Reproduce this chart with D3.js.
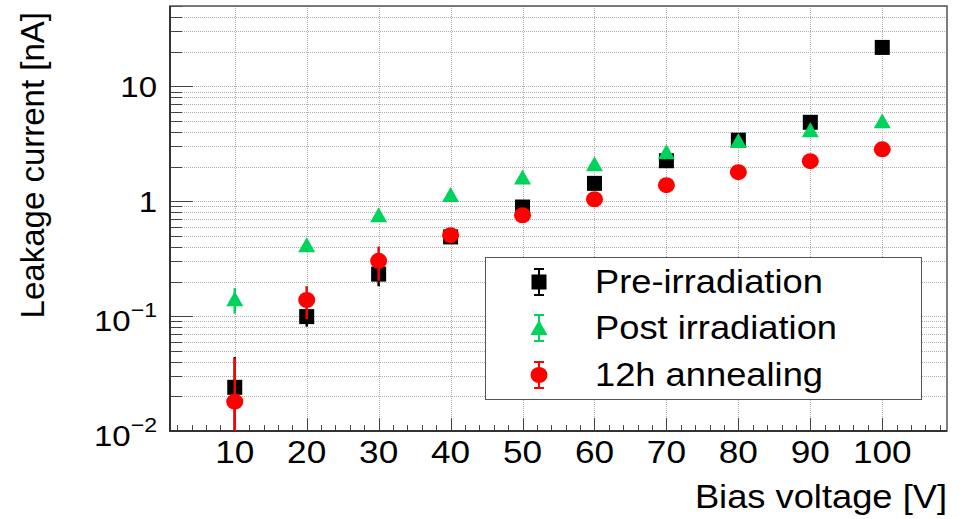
<!DOCTYPE html>
<html>
<head>
<meta charset="utf-8">
<script src="https://cdn.jsdelivr.net/npm/d3@7"></script>
<style>
    body { margin: 0; background: #fff; }
    svg { display: block; font-family: "Liberation Sans", Arial, sans-serif; }
</style>
</head>
<body>
<div id="chart"></div>
<script>

// values
let voltage = [10, 20, 30, 40, 50, 60, 70, 80, 90, 100];

let preIrr    = [0.024, 0.099, 0.232, 0.489, 0.89, 1.43, 2.25, 3.40, 4.86, 21.8];
let preErr    = [0.020, 0.018, 0.050, 0.040, 0.05, 0.06, 0.08, 0.10, 0.10, 0.30];

let postIrr   = [0.140, 0.414, 0.755, 1.13, 1.61, 2.10, 2.67, 3.35, 4.14, 4.96];
let postErr   = [0.035, 0.040, 0.040, 0.05, 0.06, 0.07, 0.08, 0.10, 0.12, 0.14];

let annealing = [0.018, 0.138, 0.303, 0.506, 0.755, 1.04, 1.38, 1.79, 2.23, 2.83];
let annealErr = [0.025, 0.044, 0.100, 0.040, 0.050, 0.05, 0.06, 0.07, 0.08, 0.10];

let seriesNames = ["Pre-irradiation", "Post irradiation", "12h annealing"];
let yMajorTicks = [0.01, 0.1, 1, 10];

let width = 963;
let height = 519;
let margin = {left: 170, right: 16, top: 6, bottom: 88};
let sx = 1.1;   // the reference text is slightly wide

let green = "#00d35b";

let series = [
    {name: seriesNames[0], values: preIrr, errors: preErr, color: "#000", shape: "square"},
    {name: seriesNames[1], values: postIrr, errors: postErr, color: green, shape: "triangle"},
    {name: seriesNames[2], values: annealing, errors: annealErr, color: "#ff0000", shape: "circle"}
];

let svg = d3.select("#chart").append("svg")
    .attr("width", width)
    .attr("height", height);

let x = d3.scaleLinear()
    .domain([1, 109])
    .range([margin.left, width - margin.right]);

let y = d3.scaleLog()
    .domain([0.01, 50])
    .range([height - margin.bottom, margin.top]);

let x0 = x.range()[0], x1 = x.range()[1];
let y0 = y.range()[0], y1 = y.range()[1];

// log minor ticks: 2..9 of every decade, inside the domain
let yAllTicks = [];
for (let e = -2; e <= 1; e++) {
    for (let m = 1; m <= 9; m++) {
        let v = m * Math.pow(10, e);
        if (v >= 0.01 && v <= 50) yAllTicks.push(v);
    }
}
let xMajor = d3.range(10, 101, 10);
let xMinor = d3.range(2, 109, 2).filter(d => d % 10 != 0);

// grid
let grid = svg.append("g").attr("class", "grid")
    .attr("stroke", "#b0b0b0")
    .attr("stroke-width", 1)
    .attr("stroke-dasharray", "1,1");

grid.selectAll(".hgrid")
    .data(yAllTicks.filter(d => d > 0.01))
    .join("line")
        .attr("class", "hgrid")
        .attr("x1", x0).attr("x2", x1)
        .attr("y1", d => Math.round(y(d)) + 0.5)
        .attr("y2", d => Math.round(y(d)) + 0.5);

grid.selectAll(".vgrid")
    .data(xMajor)
    .join("line")
        .attr("class", "vgrid")
        .attr("x1", d => Math.round(x(d)) + 0.5)
        .attr("x2", d => Math.round(x(d)) + 0.5)
        .attr("y1", y1).attr("y2", y0);

// ticks
let ticks = svg.append("g").attr("stroke", "#444").attr("stroke-width", 1);

ticks.selectAll(".ytick")
    .data(yAllTicks)
    .join("line")
        .attr("x1", x0)
        .attr("x2", d => x0 + (yMajorTicks.includes(d) ? 23 : 12))
        .attr("y1", d => Math.round(y(d)) + 0.5)
        .attr("y2", d => Math.round(y(d)) + 0.5);

ticks.selectAll(".xtick")
    .data(xMajor.concat(xMinor))
    .join("line")
        .attr("x1", d => Math.round(x(d)) + 0.5)
        .attr("x2", d => Math.round(x(d)) + 0.5)
        .attr("y1", y0)
        .attr("y2", d => y0 - (d % 10 == 0 ? 13 : 6));

// frame
svg.append("rect")
    .attr("x", x0).attr("y", y1)
    .attr("width", x1 - x0).attr("height", y0 - y1)
    .attr("fill", "none")
    .attr("stroke", "#555")
    .attr("stroke-width", 1.5);

svg.append("path")
    .attr("d", `M${x0},${y1}V${y0}H${x1}`)
    .attr("fill", "none")
    .attr("stroke", "#333")
    .attr("stroke-width", 2);

// tick labels
svg.append("g").selectAll("text")
    .data(xMajor)
    .join("text")
        .attr("transform", d => `translate(${x(d)},463) scale(${sx},1)`)
        .attr("text-anchor", "middle")
        .attr("font-size", 32)
        .text(d => d);

let ylab = svg.append("g").selectAll("g")
    .data(yMajorTicks)
    .join("g")
        .attr("transform", d => `translate(157,${y(d)}) scale(${sx},1)`);

ylab.append("text")
    .attr("text-anchor", "end")
    .attr("font-size", 30)
    .attr("y", d => d < 1 ? 15 : 11)
    .each(function(d) {
        let t = d3.select(this);
        if (d < 1) {
            t.append("tspan").text("10");
            t.append("tspan")
                .attr("font-size", 21)
                .attr("dy", -14)
                .text("\u2212" + Math.round(-Math.log10(d)));
        } else {
            t.text(d);
        }
    });

// axis titles
svg.append("text")
    .attr("transform", `translate(947,508) scale(${sx},1)`)
    .attr("text-anchor", "end")
    .attr("font-size", 33)
    .text("Bias voltage [V]");

svg.append("text")
    .attr("transform", "translate(44,12) rotate(-90)")
    .attr("text-anchor", "end")
    .attr("font-size", 33)
    .text("Leakage current [nA]");

// markers
function drawMarker(sel, shape, color) {
    if (shape == "square") {
        sel.append("rect")
            .attr("x", -7.5).attr("y", -7.5)
            .attr("width", 15).attr("height", 15)
            .attr("fill", color);
    } else if (shape == "triangle") {
        sel.append("path")
            .attr("d", "M0,-8L8.5,7L-8.5,7Z")
            .attr("fill", color);
    } else {
        sel.append("ellipse")
            .attr("rx", 8.5).attr("ry", 8)
            .attr("fill", color);
    }
}

let plot = svg.append("g");

series.forEach(function(s) {
    let pts = voltage.map((v, i) => ({x: v, y: s.values[i], e: s.errors[i]}));
    let g = plot.append("g");

    g.selectAll("line")
        .data(pts)
        .join("line")
            .attr("x1", d => x(d.x)).attr("x2", d => x(d.x))
            .attr("y1", d => Math.min(y0, d.y - d.e > 0 ? y(d.y - d.e) : y0))
            .attr("y2", d => y(d.y + d.e))
            .attr("stroke", s.color)
            .attr("stroke-width", 2.5);

    g.selectAll("g")
        .data(pts)
        .join("g")
            .attr("transform", d => `translate(${x(d.x)},${y(d.y)})`)
            .each(function() { drawMarker(d3.select(this), s.shape, s.color); });
});

// legend
let legend = svg.append("g");

legend.append("rect")
    .attr("x", 485.5).attr("y", 257.5)
    .attr("width", 436).attr("height", 142)
    .attr("fill", "#fff")
    .attr("stroke", "#555")
    .attr("stroke-width", 1);

let legendY = [282, 328, 375];

let items = legend.selectAll(".item")
    .data(series)
    .join("g")
        .attr("class", "item")
        .attr("transform", (d, i) => `translate(539,${legendY[i]})`);

items.append("path")
    .attr("d", "M0,-13V13M-5,-13H5M-5,13H5")
    .attr("stroke", d => d.color)
    .attr("stroke-width", 2)
    .attr("fill", "none");

items.each(function(d) { drawMarker(d3.select(this), d.shape, d.color); });

items.append("text")
    .attr("transform", `translate(56,11) scale(${sx},1)`)
    .attr("font-size", 33)
    .text(d => d.name);

</script>
</body>
</html>
